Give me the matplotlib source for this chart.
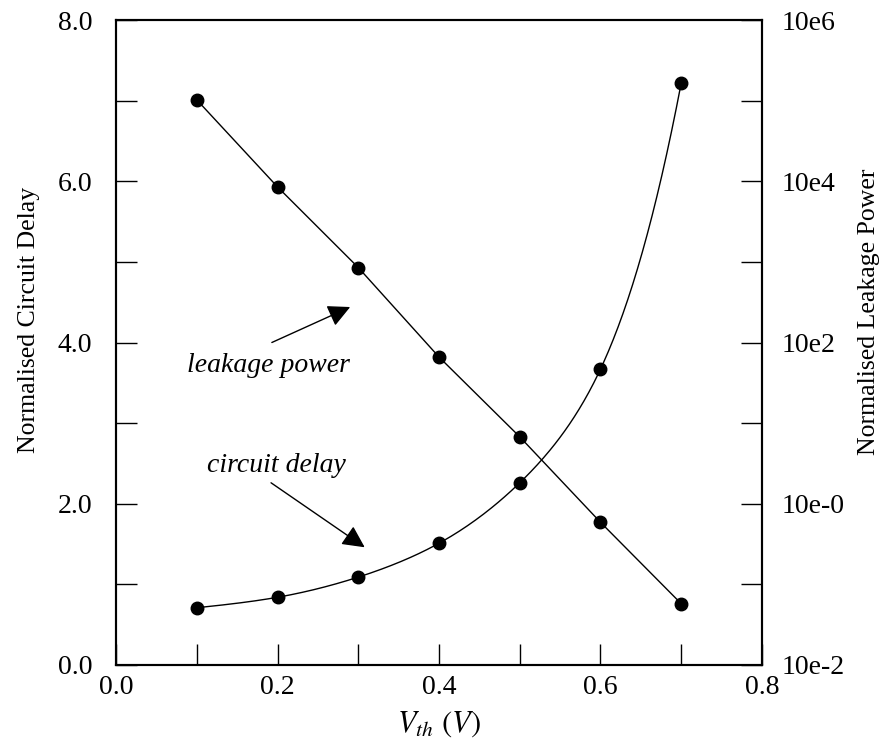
import numpy as np
import matplotlib
matplotlib.use("Agg")
import matplotlib.pyplot as plt
from matplotlib.ticker import FixedLocator, NullFormatter

vth = [0.1, 0.2, 0.3, 0.4, 0.5, 0.6, 0.7]
delay = [0.71, 0.84, 1.09, 1.51, 2.26, 3.67, 7.22]
leak_exp = [5.01, 3.93, 2.93, 1.82, 0.83, -0.23, -1.24]  # log10 of leakage
leakage = [10 ** e for e in leak_exp]

x_ticks = [0.0, 0.2, 0.4, 0.6, 0.8]
x_labels = ["0.0", "0.2", "0.4", "0.6", "0.8"]
y_ticks = [0.0, 2.0, 4.0, 6.0, 8.0]
y_labels = ["0.0", "2.0", "4.0", "6.0", "8.0"]
r_ticks = [1e-2, 1e0, 1e2, 1e4, 1e6]
r_labels = ["10e-2", "10e-0", "10e2", "10e4", "10e6"]

plt.rcParams['font.family'] = ['Liberation Serif', 'DejaVu Serif']

fig = plt.figure(figsize=(8.87, 7.47), dpi=100)
ax = fig.add_axes([116/887, 1-665/747, (762-116)/887, (665-20)/747])
ax2 = ax.twinx()

# smooth delay curve (drawing only): natural cubic spline through the data points
def spline(xs, ys, n=300):
    xs = np.asarray(xs, float); ys = np.asarray(ys, float)
    m = len(xs); h = np.diff(xs)
    A = np.zeros((m, m)); b = np.zeros(m)
    A[0, 0] = A[-1, -1] = 1
    for i in range(1, m - 1):
        A[i, i-1] = h[i-1]; A[i, i] = 2*(h[i-1]+h[i]); A[i, i+1] = h[i]
        b[i] = 3*((ys[i+1]-ys[i])/h[i] - (ys[i]-ys[i-1])/h[i-1])
    c = np.linalg.solve(A, b)
    xx = np.linspace(xs[0], xs[-1], n); yy = np.zeros(n)
    for k, x in enumerate(xx):
        i = min(np.searchsorted(xs, x, side='right') - 1, m - 2)
        dx = x - xs[i]
        bi = (ys[i+1]-ys[i])/h[i] - h[i]*(2*c[i]+c[i+1])/3
        di = (c[i+1]-c[i])/(3*h[i])
        yy[k] = ys[i] + bi*dx + c[i]*dx**2 + di*dx**3
    return xx, yy

sx, sy = spline(vth, np.log(delay))
ax.plot(sx, np.exp(sy), color='black', lw=1.0)
ax.plot(vth, delay, 'o', color='black', ms=9)

ax2.set_yscale('log')
ax2.plot(vth, leakage, '-o', color='black', lw=1.0, ms=9)

ax.set_xlim(0, 0.8)
ax.set_ylim(0, 8)
ax2.set_ylim(1e-2, 1e6)

ax.set_xticks(x_ticks)
ax.set_xticklabels(x_labels)
ax.xaxis.set_minor_locator(FixedLocator([0.1, 0.3, 0.5, 0.7]))
ax.set_yticks(y_ticks)
ax.set_yticklabels(y_labels)
ax.yaxis.set_minor_locator(FixedLocator([1, 3, 5, 7]))

ax2.yaxis.set_major_locator(FixedLocator(r_ticks))
ax2.set_yticklabels(r_labels)
ax2.yaxis.set_minor_locator(FixedLocator([1e-1, 1e1, 1e3, 1e5]))
ax2.yaxis.set_minor_formatter(NullFormatter())

for a in (ax, ax2):
    a.tick_params(which='both', direction='in', length=15, width=1.0, labelsize=20)
    for s in a.spines.values():
        s.set_linewidth(1.5)
ax.tick_params(axis='x', which='both', top=False, pad=7)
ax.tick_params(axis='y', which='both', right=False, pad=17)
ax2.tick_params(axis='y', which='both', left=False, pad=14)

ax.set_xlabel(r"$V_{th}$ $(V)$", fontsize=22, labelpad=7,
              math_fontfamily='stix')
ax.set_ylabel("Normalised Circuit Delay", fontsize=18.5)
ax.yaxis.set_label_coords(-0.118, 0.535)
ax2.set_ylabel("Normalised Leakage Power", fontsize=18.5)
ax2.yaxis.set_label_coords(1.149, 0.547)

arrow = dict(arrowstyle='-|>', mutation_scale=34, lw=1.0, color='black',
             shrinkA=0, shrinkB=0)
ax.annotate("", xy=(0.290, 4.44), xytext=(0.193, 4.0), arrowprops=arrow)
ax.text(0.189, 3.72, "leakage power", style='italic', fontsize=20, ha='center', va='center')
ax.text(0.199, 2.48, "circuit delay", style='italic', fontsize=20, ha='center', va='center')
ax.annotate("", xy=(0.308, 1.46), xytext=(0.192, 2.26), arrowprops=arrow)

fig.savefig("out.png", dpi=100)
